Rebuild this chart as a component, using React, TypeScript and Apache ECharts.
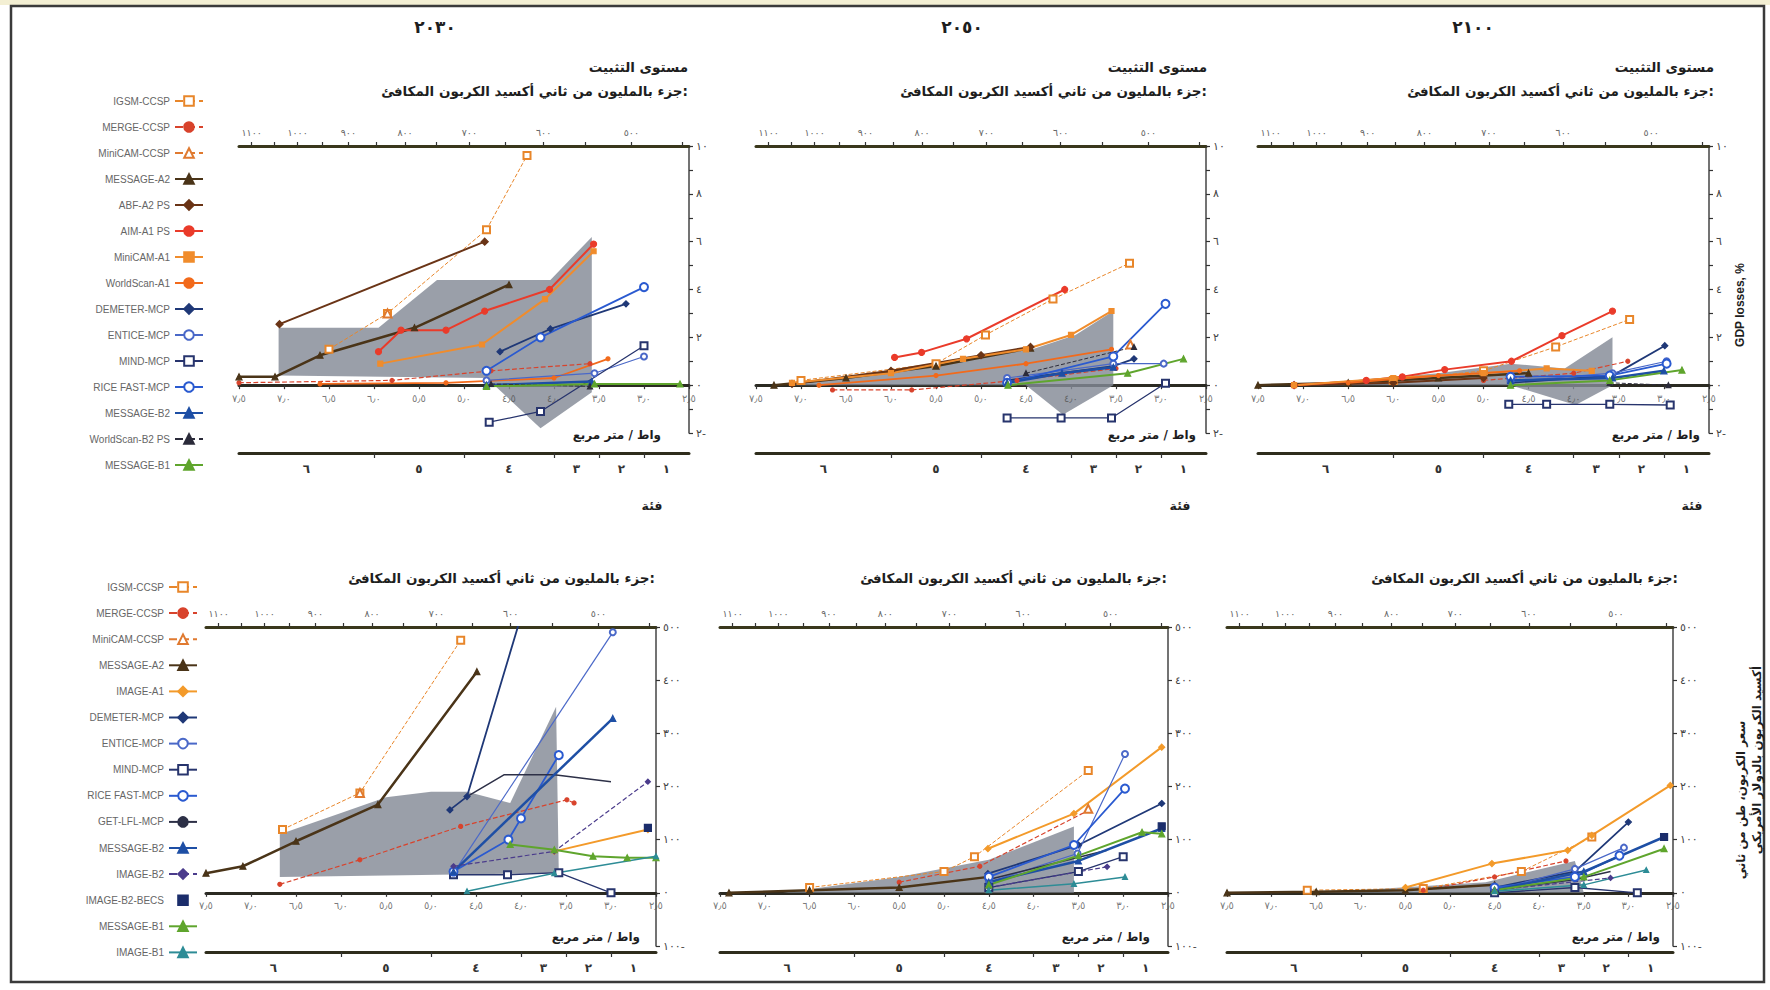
import React, { useEffect, useRef } from "react";
import * as echarts from "echarts";

// ---------- labels / axes ----------
const years = ["٢٠٣٠", "٢٠٥٠", "٢١٠٠"];
const subtitleTop1 = "مستوى التثبيت";
const subtitlePpm = "جزء بالمليون من ثاني أكسيد الكربون المكافئ:";
const unitForcing = "واط / متر مربع";
const categoryWord = "فئة";
const gdpName = "GDP losses, %";
const priceName1 = "سعر الكربون، طن من ثاني";
const priceName2 = "أكسيد الكربون بالدولار الأمريكي";

const forcingTicks = [2.5, 3.0, 3.5, 4.0, 4.5, 5.0, 5.5, 6.0, 6.5, 7.0, 7.5];
const ppmTicks = [450, 500, 550, 600, 650, 700, 750, 800, 850, 900, 950, 1000, 1050, 1100];
const ppmLabels = [500, 600, 700, 800, 900, 1000, 1100];
const catBounds = [6.0, 5.0, 4.0, 3.5, 3.0];
const catCenters = [6.75, 5.5, 4.5, 3.75, 3.25, 2.75];
const catNames = ["٦", "٥", "٤", "٣", "٢", "١"];

const topLegendNames = [
  "IGSM-CCSP", "MERGE-CCSP", "MiniCAM-CCSP", "MESSAGE-A2", "ABF-A2 PS", "AIM-A1 PS",
  "MiniCAM-A1", "WorldScan-A1", "DEMETER-MCP", "ENTICE-MCP", "MIND-MCP", "RICE FAST-MCP",
  "MESSAGE-B2", "WorldScan-B2 PS", "MESSAGE-B1",
];
const bottomLegendNames = [
  "IGSM-CCSP", "MERGE-CCSP", "MiniCAM-CCSP", "MESSAGE-A2", "IMAGE-A1", "DEMETER-MCP",
  "ENTICE-MCP", "MIND-MCP", "RICE FAST-MCP", "GET-LFL-MCP", "MESSAGE-B2", "IMAGE-B2",
  "IMAGE-B2-BECS", "MESSAGE-B1", "IMAGE-B1",
];

// ---------- 2030 GDP losses (%) ----------
const g30_IGSM = [[6.5, 1.5], [5.85, 3.0], [4.75, 6.5], [4.3, 9.6]];
const g30_MERGE = [[7.5, 0.1], [5.8, 0.2], [4.7, 0.6], [3.6, 0.9]];
const g30_MiniCCSP = [[5.85, 3.0]];
const g30_MSG_A2 = [[7.5, 0.35], [7.1, 0.35], [6.6, 1.25], [5.55, 2.4], [4.5, 4.2]];
const g30_ABF = [[7.05, 2.55], [4.77, 6.0]];
const g30_AIM = [[5.95, 1.4], [5.7, 2.3], [5.2, 2.3], [4.77, 3.1], [4.05, 4.0], [3.56, 5.9]];
const g30_MiniA1 = [[5.93, 0.9], [4.8, 1.7], [4.1, 3.6], [3.56, 5.6]];
const g30_WS_A1 = [[6.6, 0.05], [5.2, 0.1], [4.0, 0.3], [3.4, 1.1]];
const g30_DEMETER = [[4.6, 1.4], [4.04, 2.35], [3.2, 3.4]];
const g30_ENTICE = [[4.75, 0.2], [3.55, 0.5], [3.0, 1.2]];
const g30_MIND = [[4.72, -1.55], [4.15, -1.1], [3.0, 1.65]];
const g30_RICE = [[4.75, 0.6], [4.15, 2.0], [3.0, 4.1]];
const g30_MSG_B2 = [[4.75, 0.0], [3.58, 0.15]];
const g30_WS_B2 = [[4.7, 0.05], [3.6, -0.05]];
const g30_MSG_B1 = [[4.75, -0.05], [3.55, 0.05], [2.6, 0.05]];
const g30_bandHi = [[7.06, 2.4], [5.95, 2.4], [5.3, 4.4], [4.04, 4.4], [3.58, 6.2]];
const g30_bandLo = [[7.06, 0.4], [4.75, 0.3], [4.15, -1.8], [3.58, -0.3]];

// ---------- 2050 GDP losses (%) ----------
const g50_IGSM = [[7.0, 0.2], [5.5, 0.9], [4.95, 2.1], [4.2, 3.6], [3.35, 5.1]];
const g50_MERGE = [[6.65, -0.2], [5.77, -0.2], [4.6, 0.2], [3.5, 0.7]];
const g50_MiniCCSP = [[3.34, 1.7]];
const g50_MSG_A2 = [[7.3, 0.0], [6.5, 0.3], [5.5, 0.8], [4.45, 1.55]];
const g50_ABF = [[7.1, 0.05], [6.0, 0.6], [5.0, 1.25], [4.45, 1.6]];
const g50_AIM = [[5.96, 1.16], [5.66, 1.37], [5.16, 1.94], [4.07, 4.0]];
const g50_MiniA1 = [[7.1, 0.1], [6.0, 0.5], [5.2, 1.1], [4.5, 1.5], [4.0, 2.1], [3.55, 3.1]];
const g50_WS_A1 = [[6.8, 0.0], [5.5, 0.4], [4.5, 0.9], [3.55, 1.5]];
const g50_DEMETER = [[4.71, 0.2], [3.53, 0.8], [3.3, 1.1]];
const g50_ENTICE = [[4.71, 0.3], [3.53, 0.9], [2.97, 0.9]];
const g50_MIND = [[4.71, -1.37], [4.11, -1.37], [3.55, -1.37], [2.95, 0.08]];
const g50_RICE = [[4.71, 0.1], [3.53, 1.2], [2.95, 3.4]];
const g50_MSG_B2 = [[4.71, 0.1], [4.1, 0.5], [3.53, 0.75]];
const g50_WS_B2 = [[4.5, 0.5], [3.3, 1.6]];
const g50_MSG_B1 = [[4.7, 0.0], [3.37, 0.5], [2.75, 1.1]];
const g50_bandHi = [[7.1, 0.05], [5.5, 0.9], [4.43, 1.5], [3.95, 2.1], [3.53, 3.1]];
const g50_bandLo = [[7.1, 0.0], [4.5, 0.0], [4.09, -1.24], [3.53, 0.0]];

// ---------- 2100 GDP losses (%) ----------
const g00_IGSM = [[6.0, 0.2], [5.0, 0.6], [4.2, 1.6], [3.38, 2.75]];
const g00_MERGE = [[5.0, 0.2], [4.0, 0.5], [3.4, 1.0]];
const g00_MSG_A2 = [[7.5, 0.0], [6.5, 0.1], [5.5, 0.3], [4.5, 0.5]];
const g00_ABF = [[7.1, 0.0], [6.0, 0.1], [5.0, 0.3]];
const g00_AIM = [[7.1, 0.0], [6.3, 0.2], [5.9, 0.35], [5.43, 0.65], [4.69, 1.0], [4.13, 2.07], [3.57, 3.1]];
const g00_MiniA1 = [[7.1, 0.0], [6.0, 0.3], [5.0, 0.5], [4.3, 0.7], [3.8, 0.6]];
const g00_WS_A1 = [[6.5, 0.1], [5.5, 0.4], [4.6, 0.6]];
const g00_DEMETER = [[4.7, 0.1], [3.57, 0.4], [2.99, 1.65]];
const g00_ENTICE = [[4.7, 0.15], [3.57, 0.5], [2.97, 1.0]];
const g00_MIND = [[4.72, -0.8], [4.3, -0.8], [3.6, -0.8], [2.93, -0.83]];
const g00_RICE = [[4.7, 0.35], [3.6, 0.4], [2.97, 0.9]];
const g00_MSG_B2 = [[4.7, 0.2], [3.57, 0.3], [3.0, 0.6]];
const g00_WS_B2 = [[3.6, 0.1], [2.95, 0.0]];
const g00_MSG_B1 = [[4.7, 0.0], [3.6, 0.2], [2.8, 0.63]];
const g00_bandHi = [[7.1, 0.0], [5.5, 0.5], [4.7, 0.9], [4.1, 0.7], [3.57, 2.0]];
const g00_bandLo = [[7.1, 0.0], [4.7, 0.0], [3.98, -0.83], [3.57, 0.0]];

// ---------- 2030 carbon price (US$/tCO2-eq) ----------
const p30_IGSM = [[6.65, 119], [5.79, 188], [4.67, 475]];
const p30_MERGE = [[6.68, 16], [5.79, 62], [4.67, 125], [3.49, 175], [3.41, 169]];
const p30_MiniCCSP = [[5.79, 188]];
const p30_MSG_A2 = [[7.5, 37], [7.09, 50], [6.5, 97], [5.59, 166], [4.49, 416]];
const p30_IMAGE_A1 = [[3.63, 78], [2.59, 119]];
const p30_DEMETER = [[4.79, 156], [4.6, 181], [4.0, 520]];
const p30_ENTICE = [[4.75, 37], [2.98, 490]];
const p30_MIND = [[4.75, 34], [4.15, 34], [3.58, 38], [3.0, 0]];
const p30_RICE = [[4.75, 40], [4.14, 100], [4.0, 140], [3.58, 259]];
const p30_GET = [[4.6, 181], [4.19, 222], [3.63, 222], [3.0, 209]];
const p30_MSG_B2 = [[4.75, 40], [2.98, 328]];
const p30_IMAGE_B2 = [[4.75, 50], [3.63, 78], [2.59, 209]];
const p30_BECS = [[2.59, 122]];
const p30_MSG_B1 = [[4.12, 91], [3.63, 81], [3.2, 69], [2.82, 66], [2.5, 66]];
const p30_IMAGE_B1 = [[4.6, 3], [3.63, 37], [2.5, 69]];
const p30_bandHi = [[6.68, 110], [6.0, 150], [5.5, 180], [5.0, 190], [4.6, 190], [4.12, 169], [3.61, 350], [3.58, 37]];
const p30_bandLo = [[6.68, 30], [3.58, 37]];

// ---------- 2050 carbon price ----------
const p50_IGSM = [[6.5, 10], [5.0, 40], [4.66, 68], [3.39, 230]];
const p50_MERGE = [[5.5, 20], [4.6, 50], [3.39, 155]];
const p50_MiniCCSP = [[3.39, 158]];
const p50_MSG_A2 = [[7.4, 0], [6.5, 5], [5.5, 10], [4.5, 30]];
const p50_IMAGE_A1 = [[4.51, 83], [3.55, 149], [2.57, 274]];
const p50_DEMETER = [[4.51, 36], [3.5, 90], [2.57, 168]];
const p50_ENTICE = [[4.5, 20], [3.51, 74], [2.98, 261]];
const p50_MIND = [[4.5, 10], [3.5, 40], [3.0, 68]];
const p50_RICE = [[4.5, 30], [3.55, 90], [2.98, 196]];
const p50_GET = [[4.5, 25], [3.18, 80]];
const p50_MSG_B2 = [[4.5, 20], [3.5, 60], [2.57, 121]];
const p50_IMAGE_B2 = [[4.5, 10], [3.18, 49]];
const p50_BECS = [[2.57, 125]];
const p50_MSG_B1 = [[4.5, 15], [3.5, 70], [2.79, 114], [2.57, 111]];
const p50_IMAGE_B1 = [[4.5, 5], [3.55, 17], [2.98, 30]];
const p50_bandHi = [[6.8, 0], [5.5, 30], [4.5, 62], [3.55, 125]];
const p50_bandLo = [[6.8, 0], [3.55, 0]];

// ---------- 2100 carbon price ----------
const p00_IGSM = [[6.6, 5], [5.3, 8], [4.2, 40], [3.41, 105]];
const p00_MERGE = [[5.3, 5], [4.5, 30], [3.7, 60]];
const p00_MSG_A2 = [[7.5, 0], [6.5, 2], [5.5, 5], [4.5, 15]];
const p00_IMAGE_A1 = [[5.5, 10], [4.53, 55], [3.68, 80], [3.41, 108], [2.53, 202]];
const p00_DEMETER = [[4.5, 10], [3.6, 40], [3.0, 133]];
const p00_ENTICE = [[4.5, 5], [3.6, 45], [3.05, 85]];
const p00_MIND = [[4.5, 0], [3.6, 10], [2.9, 0]];
const p00_RICE = [[4.5, 10], [3.6, 30], [3.1, 70]];
const p00_GET = [[4.5, 5], [3.6, 25], [3.2, 40]];
const p00_MSG_B2 = [[4.5, 5], [3.5, 40], [2.6, 105]];
const p00_IMAGE_B2 = [[4.5, 5], [3.2, 28]];
const p00_BECS = [[2.6, 105]];
const p00_MSG_B1 = [[4.5, 5], [3.5, 30], [2.6, 83]];
const p00_IMAGE_B1 = [[4.5, 3], [3.5, 15], [2.8, 43]];
const p00_bandHi = [[6.5, 0], [4.6, 20], [3.6, 60], [3.5, 0]];
const p00_bandLo = [[6.5, 0], [3.5, 0]];

const panels: any[] = [
  { band: [g30_bandHi, g30_bandLo], lines: [
    ["IGSM-CCSP", g30_IGSM], ["MERGE-CCSP", g30_MERGE], ["MiniCAM-CCSP", g30_MiniCCSP],
    ["MESSAGE-A2", g30_MSG_A2], ["ABF-A2 PS", g30_ABF], ["AIM-A1 PS", g30_AIM],
    ["MiniCAM-A1", g30_MiniA1], ["WorldScan-A1", g30_WS_A1], ["DEMETER-MCP", g30_DEMETER],
    ["ENTICE-MCP", g30_ENTICE], ["MIND-MCP", g30_MIND], ["RICE FAST-MCP", g30_RICE],
    ["MESSAGE-B2", g30_MSG_B2], ["WorldScan-B2 PS", g30_WS_B2], ["MESSAGE-B1", g30_MSG_B1]] },
  { band: [g50_bandHi, g50_bandLo], lines: [
    ["IGSM-CCSP", g50_IGSM], ["MERGE-CCSP", g50_MERGE], ["MiniCAM-CCSP", g50_MiniCCSP],
    ["MESSAGE-A2", g50_MSG_A2], ["ABF-A2 PS", g50_ABF], ["AIM-A1 PS", g50_AIM],
    ["MiniCAM-A1", g50_MiniA1], ["WorldScan-A1", g50_WS_A1], ["DEMETER-MCP", g50_DEMETER],
    ["ENTICE-MCP", g50_ENTICE], ["MIND-MCP", g50_MIND], ["RICE FAST-MCP", g50_RICE],
    ["MESSAGE-B2", g50_MSG_B2], ["WorldScan-B2 PS", g50_WS_B2], ["MESSAGE-B1", g50_MSG_B1]] },
  { band: [g00_bandHi, g00_bandLo], lines: [
    ["IGSM-CCSP", g00_IGSM], ["MERGE-CCSP", g00_MERGE],
    ["MESSAGE-A2", g00_MSG_A2], ["ABF-A2 PS", g00_ABF], ["AIM-A1 PS", g00_AIM],
    ["MiniCAM-A1", g00_MiniA1], ["WorldScan-A1", g00_WS_A1], ["DEMETER-MCP", g00_DEMETER],
    ["ENTICE-MCP", g00_ENTICE], ["MIND-MCP", g00_MIND], ["RICE FAST-MCP", g00_RICE],
    ["MESSAGE-B2", g00_MSG_B2], ["WorldScan-B2 PS", g00_WS_B2], ["MESSAGE-B1", g00_MSG_B1]] },
  { band: [p30_bandHi, p30_bandLo], lines: [
    ["IGSM-CCSP", p30_IGSM], ["MERGE-CCSP", p30_MERGE], ["MiniCAM-CCSP", p30_MiniCCSP],
    ["MESSAGE-A2", p30_MSG_A2], ["IMAGE-A1", p30_IMAGE_A1], ["DEMETER-MCP", p30_DEMETER],
    ["ENTICE-MCP", p30_ENTICE], ["MIND-MCP", p30_MIND], ["RICE FAST-MCP", p30_RICE],
    ["GET-LFL-MCP", p30_GET], ["MESSAGE-B2", p30_MSG_B2], ["IMAGE-B2", p30_IMAGE_B2],
    ["IMAGE-B2-BECS", p30_BECS], ["MESSAGE-B1", p30_MSG_B1], ["IMAGE-B1", p30_IMAGE_B1]] },
  { band: [p50_bandHi, p50_bandLo], lines: [
    ["IGSM-CCSP", p50_IGSM], ["MERGE-CCSP", p50_MERGE], ["MiniCAM-CCSP", p50_MiniCCSP],
    ["MESSAGE-A2", p50_MSG_A2], ["IMAGE-A1", p50_IMAGE_A1], ["DEMETER-MCP", p50_DEMETER],
    ["ENTICE-MCP", p50_ENTICE], ["MIND-MCP", p50_MIND], ["RICE FAST-MCP", p50_RICE],
    ["GET-LFL-MCP", p50_GET], ["MESSAGE-B2", p50_MSG_B2], ["IMAGE-B2", p50_IMAGE_B2],
    ["IMAGE-B2-BECS", p50_BECS], ["MESSAGE-B1", p50_MSG_B1], ["IMAGE-B1", p50_IMAGE_B1]] },
  { band: [p00_bandHi, p00_bandLo], lines: [
    ["IGSM-CCSP", p00_IGSM], ["MERGE-CCSP", p00_MERGE],
    ["MESSAGE-A2", p00_MSG_A2], ["IMAGE-A1", p00_IMAGE_A1], ["DEMETER-MCP", p00_DEMETER],
    ["ENTICE-MCP", p00_ENTICE], ["MIND-MCP", p00_MIND], ["RICE FAST-MCP", p00_RICE],
    ["GET-LFL-MCP", p00_GET], ["MESSAGE-B2", p00_MSG_B2], ["IMAGE-B2", p00_IMAGE_B2],
    ["IMAGE-B2-BECS", p00_BECS], ["MESSAGE-B1", p00_MSG_B1], ["IMAGE-B1", p00_IMAGE_B1]] },
];

// ---------- styles & layout ----------
const seriesStyle: Record<string, any> = {
  "IGSM-CCSP": { color: "#e8862a", width: 1, type: "dashed", symbol: "emptyRect", size: 7 },
  "MERGE-CCSP": { color: "#d8432c", width: 1.2, type: "dashed", symbol: "circle", size: 4 },
  "MiniCAM-CCSP": { color: "#e07a30", width: 1, type: "dashed", symbol: "emptyTriangle", size: 8 },
  "MESSAGE-A2": { color: "#4a3418", width: 2.5, symbol: "triangle", size: 6 },
  "ABF-A2 PS": { color: "#6a3416", width: 2, symbol: "diamond", size: 7 },
  "AIM-A1 PS": { color: "#ea3b2a", width: 2, symbol: "circle", size: 6 },
  "MiniCAM-A1": { color: "#f08c2c", width: 2, symbol: "rect", size: 5 },
  "WorldScan-A1": { color: "#f26a1b", width: 1.8, symbol: "circle", size: 4 },
  "DEMETER-MCP": { color: "#1f3877", width: 1.8, symbol: "diamond", size: 6 },
  "ENTICE-MCP": { color: "#4a68c8", width: 1.2, symbol: "emptyCircle", size: 6 },
  "MIND-MCP": { color: "#27346d", width: 1.3, symbol: "emptyRect", size: 7 },
  "RICE FAST-MCP": { color: "#2a5ad0", width: 1.8, symbol: "emptyCircle", size: 8 },
  "MESSAGE-B2": { color: "#1e4fa5", width: 2.5, symbol: "triangle", size: 6 },
  "WorldScan-B2 PS": { color: "#2b2b3a", width: 1, type: "dashed", symbol: "triangle", size: 5 },
  "MESSAGE-B1": { color: "#5fa52d", width: 2, symbol: "triangle", size: 6 },
  "IMAGE-A1": { color: "#f39a2a", width: 2, symbol: "diamond", size: 6 },
  "GET-LFL-MCP": { color: "#2d3047", width: 1.5, symbol: "none", size: 0 },
  "IMAGE-B2": { color: "#4b3c8c", width: 1.2, type: "dashed", symbol: "diamond", size: 5 },
  "IMAGE-B2-BECS": { color: "#1b2d6b", width: 0, symbol: "rect", size: 7 },
  "IMAGE-B1": { color: "#2d8c96", width: 1.5, symbol: "triangle", size: 5 },
};

const gridBoxes = [
  { left: 239, top: 146, width: 450, height: 287 },
  { left: 756, top: 146, width: 450, height: 287 },
  { left: 1258, top: 146, width: 451, height: 287 },
  { left: 206, top: 627, width: 450, height: 319 },
  { left: 720, top: 627, width: 448, height: 319 },
  { left: 1227, top: 627, width: 446, height: 319 },
];

const FONT = "DejaVu Sans, Noto Sans, sans-serif";
const AR = "٠١٢٣٤٥٦٧٨٩";
const ar = (s: string | number) =>
  String(s).replace(/[0-9]/g, (d) => AR[+d]).replace(".", "٫");
const arSigned = (v: number) => (v < 0 ? ar(-v) + "-" : ar(v));
const forcing = (c: number) => 5.35 * Math.log(c / 278);

function txt(x: number, y: number, text: string, o: any = {}) {
  return {
    type: "text",
    x,
    y,
    rotation: o.rotation || 0,
    silent: true,
    z: 10,
    style: {
      text,
      fill: o.fill || "#1e1e1e",
      fontSize: o.size || 13,
      fontWeight: o.weight || "bold",
      fontFamily: o.family || FONT,
      align: o.align || "right",
      textAlign: o.align || "right",
      verticalAlign: "middle",
      textVerticalAlign: "middle",
    },
  };
}

function buildOption() {
  const grid: any[] = [];
  const xAxis: any[] = [];
  const yAxis: any[] = [];
  const series: any[] = [];

  gridBoxes.forEach((b, g) => {
    const top = g < 3;
    grid.push({ ...b, containLabel: false });
    // main forcing axis on the zero line (labels drawn by the label series below)
    xAxis.push({
      type: "value", gridIndex: g, min: 2.5, max: 7.5, interval: 0.5, inverse: true,
      position: "bottom", silent: true,
      axisLine: { onZero: true, lineStyle: { color: "#2b2a22", width: 3 } },
      axisTick: { show: true, length: 4, lineStyle: { color: "#333", width: 1.2 } },
      axisLabel: { show: false },
      splitLine: { show: false },
    });
    // ppm axis on top
    xAxis.push({
      type: "value", gridIndex: g, min: 2.5, max: 7.5, inverse: true, position: "top", silent: true,
      axisLine: { onZero: false, lineStyle: { color: "#3a381c", width: 3 } },
      axisTick: { show: true, customValues: ppmTicks.map(forcing), length: 4, lineStyle: { color: "#333", width: 1.2 } },
      axisLabel: {
        customValues: ppmLabels.map(forcing),
        formatter: (v: number) => {
          const p = ppmLabels.find((c) => Math.abs(forcing(c) - v) < 0.01);
          return p === undefined ? "" : ar(p);
        },
        color: "#666", fontSize: 9.5, margin: 9, fontFamily: FONT,
      },
      splitLine: { show: false },
    });
    // category axis below
    xAxis.push({
      type: "value", gridIndex: g, min: 2.5, max: 7.5, inverse: true, position: "bottom",
      offset: top ? 20 : 6, silent: true,
      axisLine: { onZero: false, lineStyle: { color: "#2f2d1c", width: 3 } },
      axisTick: { show: true, customValues: catBounds, length: 5, lineStyle: { color: "#333", width: 1.2 } },
      axisLabel: {
        customValues: catCenters,
        formatter: (v: number) => {
          const i = catCenters.findIndex((c) => Math.abs(c - v) < 0.01);
          return i < 0 ? "" : catNames[i];
        },
        color: "#333", fontSize: 12, fontWeight: "bold", margin: 10, fontFamily: FONT,
      },
      splitLine: { show: false },
    });
    yAxis.push({
      type: "value", gridIndex: g, position: "right", silent: true,
      min: top ? -2 : -100, max: top ? 10 : 500, interval: top ? 1 : 100,
      axisLine: { show: true, onZero: false, lineStyle: { color: "#444", width: 1.5 } },
      axisTick: { show: true, length: 4, lineStyle: { color: "#333", width: 1.2 } },
      axisLabel: {
        formatter: (v: number) => (top && Math.abs(v) % 2 === 1 ? "" : arSigned(v)),
        color: "#444", fontSize: 11, margin: 7, fontFamily: FONT,
      },
      splitLine: { show: false },
    });

    // forcing tick labels sitting under the zero line
    series.push({
      type: "scatter", xAxisIndex: g * 3, yAxisIndex: g, silent: true, z: 6,
      symbol: "circle", symbolSize: 0,
      data: forcingTicks.map((f) => [f, 0]),
      itemStyle: { color: "#555" },
      label: {
        show: true, position: "bottom", distance: 8,
        formatter: (p: any) => ar(Number(p.value[0]).toFixed(1)),
        color: "#555", fontSize: 10, fontFamily: FONT,
      },
      emphasis: { disabled: true },
    });

    const p = panels[g];
    const poly = [...p.band[0], ...p.band[1].slice().reverse()];
    series.push({
      type: "custom", xAxisIndex: g * 3, yAxisIndex: g, silent: true, z: 1,
      data: poly,
      renderItem: (params: any, api: any) => {
        if (params.dataIndex !== 0) return null;
        return {
          type: "polygon",
          shape: { points: poly.map((pt: number[]) => api.coord(pt)) },
          style: { fill: "rgba(132,138,150,0.82)", stroke: "none" },
        };
      },
    });
    p.lines.forEach(([name, data]: [string, number[][]]) => {
      const s = seriesStyle[name];
      series.push({
        type: "line", name, xAxisIndex: g * 3, yAxisIndex: g, data, z: 3,
        symbol: s.symbol, symbolSize: s.size, showSymbol: s.symbol !== "none",
        lineStyle: { color: s.color, width: s.width, type: s.type || "solid" },
        itemStyle: { color: s.color, borderColor: s.color, borderWidth: 1.2 },
        emphasis: { disabled: true },
        clip: true,
      });
    });
  });

  const graphic: any[] = [
    { type: "rect", silent: true, z: 0, shape: { x: 0, y: 0, width: 1770, height: 5 }, style: { fill: "#f3efd3" } },
    { type: "rect", silent: true, z: 0, shape: { x: 11, y: 6, width: 1753, height: 976 }, style: { fill: "none", stroke: "#3a3a3a", lineWidth: 2.5 } },
  ];
  const yearX = [435, 962, 1473];
  years.forEach((y, i) => graphic.push(txt(yearX[i], 27, y, { size: 17, align: "center" })));
  const topRight = [688, 1207, 1714];
  topRight.forEach((x) => {
    graphic.push(txt(x, 67, subtitleTop1, { size: 13.5 }));
    graphic.push(txt(x, 91, subtitlePpm, { size: 13.5 }));
  });
  [655, 1167, 1678].forEach((x) => graphic.push(txt(x, 578, subtitlePpm, { size: 13.5 })));
  [661, 1196, 1700].forEach((x) => graphic.push(txt(x, 435, unitForcing, { size: 12 })));
  [640, 1150, 1660].forEach((x) => graphic.push(txt(x, 937, unitForcing, { size: 12 })));
  [652, 1180, 1692].forEach((x) => graphic.push(txt(x, 505, categoryWord, { size: 12.5, align: "center" })));
  graphic.push(txt(1740, 305, gdpName, { size: 12, align: "center", rotation: Math.PI / 2, family: "Liberation Sans, Arial, sans-serif" }));
  graphic.push(txt(1741, 800, priceName1, { size: 12, align: "center", rotation: Math.PI / 2 }));
  graphic.push(txt(1757, 760, priceName2, { size: 12, align: "center", rotation: Math.PI / 2 }));

  const legendBase = {
    orient: "vertical", align: "right", selectedMode: false, padding: 0,
    itemWidth: 28, itemHeight: 12,
    textStyle: { fontSize: 10, color: "#666", fontFamily: "Liberation Sans, Arial, sans-serif", lineHeight: 12 },
  };

  return {
    animation: false,
    backgroundColor: "#ffffff",
    textStyle: { fontFamily: FONT },
    grid, xAxis, yAxis, series, graphic,
    legend: [
      { ...legendBase, data: topLegendNames, right: 1770 - 204, top: 95, itemGap: 14.0 },
      { ...legendBase, data: bottomLegendNames, right: 1770 - 198, top: 581, itemGap: 14.1 },
    ],
  };
}

export default function App() {
  const ref = useRef<HTMLDivElement>(null);
  useEffect(() => {
    if (!ref.current) return;
    const chart = echarts.init(ref.current, null, { renderer: "svg", width: 1770, height: 990 });
    chart.setOption(buildOption() as any);
    return () => chart.dispose();
  }, []);
  return (
    <div
      ref={ref}
      style={{ position: "absolute", left: 0, top: 0, width: 1770, height: 990, background: "#fff" }}
    />
  );
}
